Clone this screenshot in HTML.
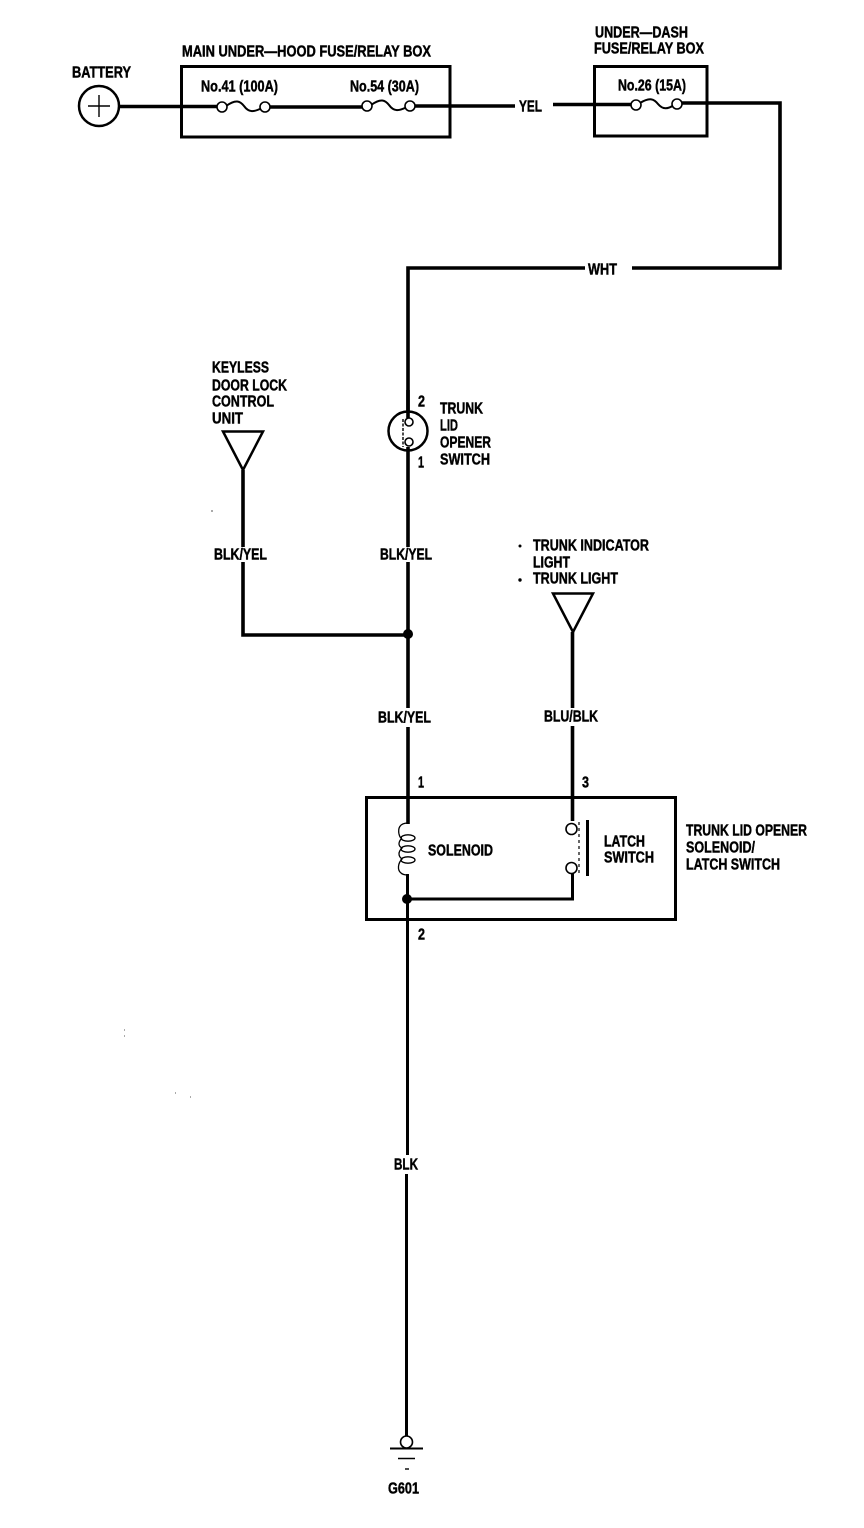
<!DOCTYPE html>
<html>
<head>
<meta charset="utf-8">
<style>
html,body{margin:0;padding:0;background:#fff}
svg{display:block}
text{font-family:"Liberation Sans",sans-serif;font-weight:bold;font-size:16px;fill:#000;stroke:#000;stroke-width:.45px}
.w{fill:none;stroke:#000;stroke-width:3.600;stroke-linecap:butt;stroke-linejoin:miter}
.n{fill:none;stroke:#000;stroke-width:3;stroke-linecap:butt}
.b{fill:none;stroke:#000;stroke-width:3}
.t{fill:none;stroke:#000;stroke-width:2}
.c{fill:#fff;stroke:#000;stroke-width:1.600}
</style>
</head>
<body>
<svg width="864" height="1528" viewBox="0 0 864 1528" xmlns="http://www.w3.org/2000/svg">
<rect width="864" height="1528" fill="#fff"/>

<!-- boxes -->
<rect class="b" x="181.500" y="66.500" width="268.500" height="70.500"/>
<rect class="b" x="594.500" y="66.500" width="112.500" height="69.500"/>
<rect class="b" x="366.500" y="797.500" width="309" height="122"/>

<!-- top wires -->
<path class="w" d="M119 106.500H219"/>
<path class="w" d="M269 107H364"/>
<path class="w" d="M414 106H515"/>
<path class="w" d="M553 104.500H633"/>
<path class="w" d="M681 103H780V268H632"/>
<path class="w" d="M585 268H408V412"/>

<!-- battery -->
<circle cx="99" cy="106" r="20" fill="#fff" stroke="#000" stroke-width="2.500"/>
<path d="M88 106H110M99 95V117" stroke="#000" stroke-width="1.400" fill="none"/>

<!-- fuses -->
<path class="t" d="M226 106C236 99 240 101 244 106C249 113 254 112 262 108"/>
<circle class="c" cx="222" cy="107" r="5"/><circle class="c" cx="265" cy="107" r="5"/>
<path class="t" d="M371 105C381 98 385 100 389 105C394 112 399 111 407 107"/>
<circle class="c" cx="367" cy="106" r="5"/><circle class="c" cx="410" cy="106" r="5"/>
<path class="t" d="M640 103C650 97 654 99 658 104C663 110 668 109 674 105"/>
<circle class="c" cx="636" cy="105" r="5"/><circle class="c" cx="677" cy="104" r="5"/>

<!-- trunk lid opener switch -->
<circle cx="408" cy="431" r="19.500" fill="#fff" stroke="#000" stroke-width="2.500"/>
<path class="w" d="M408 390V418M408 447V547"/>
<circle class="c" cx="409" cy="422" r="4"/><circle class="c" cx="409" cy="442" r="4"/>
<path d="M403 419V447" stroke="#000" stroke-width="1.400" stroke-dasharray="3 1.500" fill="none"/>

<!-- keyless -->
<path d="M223 431.500H263L243 470Z" fill="#fff" stroke="#000" stroke-width="2.500"/>
<path class="w" d="M243 470V547"/>
<path class="w" d="M243 562V635H408"/>
<path class="w" d="M408 562V708"/>
<circle cx="408" cy="634" r="5" fill="#000"/>
<path class="w" d="M408 727V824"/>

<!-- indicator -->
<path d="M553 593.500H593L573 632Z" fill="#fff" stroke="#000" stroke-width="2.500"/>
<path class="w" d="M572.500 632V708"/>
<path class="w" d="M572.500 726V821"/>
<circle cx="520" cy="546" r="1.500" fill="#000"/>
<circle cx="520" cy="580" r="1.700" fill="#000"/>

<!-- solenoid coil -->
<path d="M408 823C399 823 398 829 399 834C400 838 401 838 402 838M402 838C398 842 398 846 402 848C398 852 398 856 402 859C398 863 397 870 401 873C403 875 406 875 408 875" fill="none" stroke="#000" stroke-width="1.300"/>
<ellipse cx="408" cy="838" rx="7" ry="3.200" fill="none" stroke="#000" stroke-width="1.300"/>
<ellipse cx="408" cy="849" rx="7" ry="3.200" fill="none" stroke="#000" stroke-width="1.300"/>
<ellipse cx="408" cy="860" rx="7" ry="3.200" fill="none" stroke="#000" stroke-width="1.300"/>
<path class="n" d="M407.500 874V1155"/>
<path class="n" d="M406.500 1174V1437"/>
<path class="n" d="M407 899H572.500V873"/>
<circle cx="407" cy="899" r="5" fill="#000"/>

<!-- latch switch -->
<circle class="c" cx="571.500" cy="829" r="5.500"/>
<circle class="c" cx="571.500" cy="868" r="5.500"/>
<path d="M579 822V874" stroke="#000" stroke-width="1.200" stroke-dasharray="3 3" fill="none"/>
<path d="M587.500 820V876" stroke="#000" stroke-width="3" fill="none"/>

<!-- ground -->
<circle class="c" cx="406.500" cy="1442" r="6"/>
<path d="M390 1448.500H423" stroke="#000" stroke-width="2" fill="none"/>
<path d="M398 1458.500H415" stroke="#000" stroke-width="1.400" fill="none"/>
<path d="M405 1469H409" stroke="#000" stroke-width="1.400" fill="none"/>

<!-- specks -->
<path d="M211 511h2M124 1030h1M124 1036h1M175 1093h1M190 1097h1" stroke="#555" stroke-width="1" fill="none"/>

<!-- labels -->
<g transform="translate(0,-0.6)">
<text x="72" y="78" textLength="59" lengthAdjust="spacingAndGlyphs">BATTERY</text>
<text x="182" y="57" textLength="249" lengthAdjust="spacingAndGlyphs">MAIN UNDER—HOOD FUSE/RELAY BOX</text>
<text x="201" y="92" textLength="77" lengthAdjust="spacingAndGlyphs">No.41 (100A)</text>
<text x="350" y="92" textLength="69" lengthAdjust="spacingAndGlyphs">No.54 (30A)</text>
<text x="595" y="38" textLength="93" lengthAdjust="spacingAndGlyphs">UNDER—DASH</text>
<text x="594" y="54" textLength="110" lengthAdjust="spacingAndGlyphs">FUSE/RELAY BOX</text>
<text x="618" y="91" textLength="68" lengthAdjust="spacingAndGlyphs">No.26 (15A)</text>
<text x="519" y="112" textLength="23" lengthAdjust="spacingAndGlyphs">YEL</text>
<text x="588" y="275" textLength="29" lengthAdjust="spacingAndGlyphs">WHT</text>

<text x="212" y="373" textLength="57" lengthAdjust="spacingAndGlyphs">KEYLESS</text>
<text x="212" y="391" textLength="75" lengthAdjust="spacingAndGlyphs">DOOR LOCK</text>
<text x="212" y="407" textLength="62" lengthAdjust="spacingAndGlyphs">CONTROL</text>
<text x="212" y="424" textLength="31" lengthAdjust="spacingAndGlyphs">UNIT</text>

<text x="418" y="407" textLength="7" lengthAdjust="spacingAndGlyphs">2</text>
<text x="418" y="468" textLength="6" lengthAdjust="spacingAndGlyphs">1</text>
<text x="440" y="414" textLength="43" lengthAdjust="spacingAndGlyphs">TRUNK</text>
<text x="440" y="431" textLength="18" lengthAdjust="spacingAndGlyphs">LID</text>
<text x="440" y="448" textLength="51" lengthAdjust="spacingAndGlyphs">OPENER</text>
<text x="440" y="465" textLength="50" lengthAdjust="spacingAndGlyphs">SWITCH</text>

<text x="214" y="560" textLength="53" lengthAdjust="spacingAndGlyphs">BLK/YEL</text>
<text x="380" y="560" textLength="52" lengthAdjust="spacingAndGlyphs">BLK/YEL</text>
<text x="378" y="723" textLength="53" lengthAdjust="spacingAndGlyphs">BLK/YEL</text>
<text x="544" y="722" textLength="54" lengthAdjust="spacingAndGlyphs">BLU/BLK</text>

<text x="533" y="551" textLength="116" lengthAdjust="spacingAndGlyphs">TRUNK INDICATOR</text>
<text x="533" y="568" textLength="37" lengthAdjust="spacingAndGlyphs">LIGHT</text>
<text x="533" y="584" textLength="85" lengthAdjust="spacingAndGlyphs">TRUNK LIGHT</text>

<text x="418" y="788" textLength="6" lengthAdjust="spacingAndGlyphs">1</text>
<text x="582" y="788" textLength="7" lengthAdjust="spacingAndGlyphs">3</text>
<text x="418" y="940" textLength="7" lengthAdjust="spacingAndGlyphs">2</text>
<text x="428" y="856" textLength="65" lengthAdjust="spacingAndGlyphs">SOLENOID</text>
<text x="604" y="847" textLength="41" lengthAdjust="spacingAndGlyphs">LATCH</text>
<text x="604" y="863" textLength="50" lengthAdjust="spacingAndGlyphs">SWITCH</text>
<text x="686" y="836" textLength="121" lengthAdjust="spacingAndGlyphs">TRUNK LID OPENER</text>
<text x="686" y="853" textLength="69" lengthAdjust="spacingAndGlyphs">SOLENOID/</text>
<text x="686" y="870" textLength="94" lengthAdjust="spacingAndGlyphs">LATCH SWITCH</text>

<text x="394" y="1170" textLength="24" lengthAdjust="spacingAndGlyphs">BLK</text>
<text x="388" y="1494" textLength="31" lengthAdjust="spacingAndGlyphs">G601</text>
</g>
</svg>
</body>
</html>
